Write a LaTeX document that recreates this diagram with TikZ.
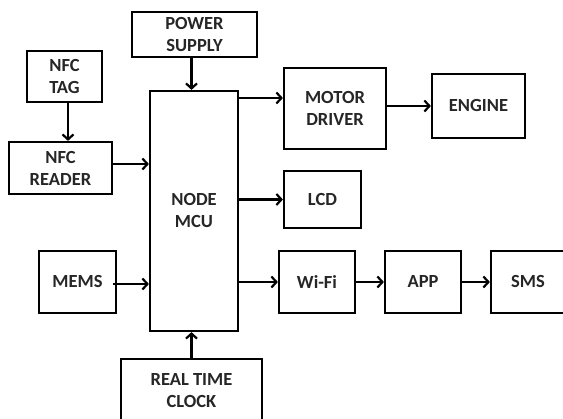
\documentclass[tikz,border=0pt]{standalone}
\usepackage{fontspec}
\setmainfont{Carlito}
\usetikzlibrary{arrows.meta}
\tikzset{
  blk/.style={draw=black, line width=2.2pt, fill=white, align=center, inner sep=0pt,
    font=\fontsize{18.5}{22}\selectfont\bfseries, text=black!85},
  arr/.style={line width=2.2pt, -{Straight Barb[length=5pt,width=11pt]}},
}
\begin{document}
\begin{tikzpicture}[x=1pt,y=-1pt]
\clip (0,0) rectangle (563,419);
\fill[white] (0,0) rectangle (563,419);
% nodes (pixel coordinates, y downward)
\node[blk, minimum width=125pt, minimum height=45pt] (power) at (194.5,34.5) {POWER\\SUPPLY};
\node[blk, minimum width=75pt, minimum height=51pt] (nfctag) at (64.5,76.5) {NFC\\TAG};
\node[blk, minimum width=103pt, minimum height=52pt] (nfcreader) at (60.5,168) {NFC\\READER};
\node[blk, minimum width=88pt, minimum height=240pt] (mcu) at (194,211) {NODE\\MCU};
\node[blk, minimum width=102pt, minimum height=81pt] (motor) at (335,108.5) {MOTOR\\DRIVER};
\node[blk, minimum width=93pt, minimum height=64pt] (engine) at (478.5,106) {ENGINE};
\node[blk, minimum width=77pt, minimum height=57pt] (lcd) at (322.5,199.5) {LCD};
\node[blk, minimum width=77pt, minimum height=62pt] (mems) at (77.5,282) {MEMS};
\node[blk, minimum width=76pt, minimum height=62pt] (wifi) at (317,282) {Wi-Fi};
\node[blk, minimum width=76pt, minimum height=62pt] (app) at (423,282) {APP};
\node[blk, minimum width=74pt, minimum height=62pt] (sms) at (528,282) {SMS};
\node[blk, minimum width=141pt, minimum height=64pt] (rtc) at (191.5,391) {REAL TIME\\CLOCK};
% connectors
\draw[arr] ([xshift=-3pt]power.south) -- ([xshift=-3pt]power.south |- mcu.north);
\draw[arr] ([xshift=3.5pt]nfctag.south) -- ([xshift=3.5pt]nfctag.south |- nfcreader.north);
\draw[arr] ([yshift=4pt]nfcreader.east) -- ([yshift=4pt]nfcreader.east -| mcu.west);
\draw[arr] ([yshift=10.5pt]motor.west -| mcu.east) -- ([yshift=10.5pt]motor.west);
\draw[arr] (lcd.west -| mcu.east) -- (lcd.west);
\draw[arr] ([yshift=2.5pt]motor.east) -- ([yshift=2.5pt]motor.east -| engine.west);
\draw[arr] ([xshift=-4pt,yshift=-2pt]mems.east) -- ([yshift=-2pt]mems.east -| mcu.west);
\draw[arr] (wifi.west -| mcu.east) -- (wifi.west);
\draw[arr] (wifi) -- (app);
\draw[arr] (app) -- (sms);
\draw[arr] (rtc.north) -- (rtc.north |- mcu.south);
\end{tikzpicture}
\end{document}
